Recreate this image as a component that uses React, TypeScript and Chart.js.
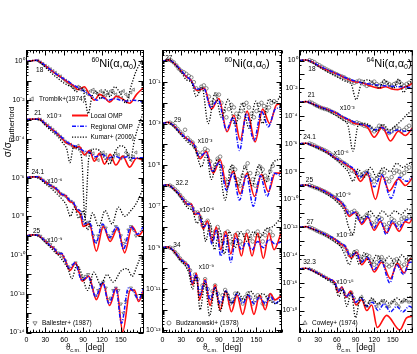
import React, { useEffect, useRef } from 'react';
import { Chart, registerables } from 'chart.js';
Chart.register(...registerables);

type P = [number, number];
const FONT = '"Liberation Sans", Arial, Helvetica, sans-serif';

const X_LABELS = [0, 30, 60, 90, 120, 150];

// ===== Panel A : 60Ni(α,α0) 18, 21, 24.1, 25 MeV  (values = σ/σR before scaling) =====
const A18_local: P[] = [[0,1],[8,1.1],[16,1.15],[25,0.8],[35,0.45],[45,0.25],[55,0.15],[65,0.09],[75,0.055],[82,0.035],[92,0.05],[100,0.02],[108,0.01],[116,0.02],[124,0.014],[132,0.008],[143,0.016],[154,0.011],[164,0.007],[175,0.02],[186,0.045]];
const A18_regional: P[] = [[0,1],[8,1.1],[16,1.15],[25,0.8],[35,0.45],[45,0.26],[55,0.15],[65,0.1],[75,0.06],[85,0.04],[95,0.025],[105,0.015],[112,0.01],[120,0.014],[130,0.01],[140,0.012],[150,0.01],[160,0.009],[170,0.01],[186,0.008]];
const A18_kumar: P[] = [[0,1],[8,1.1],[16,1.15],[25,0.7],[35,0.35],[45,0.18],[55,0.1],[65,0.06],[72,0.05],[79,0.027],[86,0.05],[92,0.02],[98,0.002],[104,0.015],[110,0.03],[118,0.012],[126,0.035],[133,0.015],[140,0.05],[150,0.02],[158,0.007],[166,0.05],[174,0.3],[186,1.5]];
const A18_exp: P[] = [[18,1.1],[22,0.9],[26,0.75],[30,0.6],[34,0.5],[38,0.4],[42,0.32],[46,0.26],[50,0.2],[54,0.17],[58,0.13],[62,0.1],[66,0.08],[70,0.06],[74,0.045],[78,0.04],[82,0.05],[86,0.035],[90,0.04],[94,0.028],[98,0.02],[102,0.03],[106,0.035],[110,0.025],[114,0.02],[118,0.03],[122,0.025],[126,0.018],[130,0.022],[134,0.03],[138,0.025],[142,0.02],[146,0.015],[150,0.025],[154,0.03],[158,0.02],[162,0.015],[166,0.025],[170,0.035]];

const A21_local: P[] = [[0,1],[10,1.05],[20,1.05],[30,0.6],[40,0.32],[48,0.2],[56,0.11],[64,0.06],[70,0.055],[77,0.035],[84,0.04],[92,0.015],[100,0.025],[108,0.007],[116,0.018],[124,0.005],[133,0.016],[142,0.0045],[153,0.013],[164,0.0035],[175,0.01],[186,0.008]];
const A21_regional: P[] = [[0,1],[10,1.05],[20,1.05],[30,0.6],[40,0.33],[48,0.2],[56,0.12],[64,0.07],[72,0.05],[80,0.04],[90,0.025],[100,0.02],[110,0.012],[120,0.016],[130,0.01],[140,0.013],[150,0.01],[160,0.012],[170,0.01],[186,0.011]];
const A21_kumar: P[] = [[0,1],[10,1.05],[20,1.0],[30,0.5],[40,0.25],[50,0.13],[58,0.06],[64,0.03],[69,0.006],[75,0.04],[82,0.03],[88,0.008],[93,0.000008],[99,0.01],[108,0.03],[116,0.025],[124,0.01],[132,0.005],[140,0.02],[150,0.045],[158,0.03],[165,0.008],[172,0.1],[186,2.5]];
const A21_exp: P[] = [[18,1.05],[22,1.0],[26,0.8],[30,0.6],[34,0.5],[38,0.38],[42,0.3],[46,0.22],[50,0.17],[54,0.13],[58,0.1],[62,0.07],[66,0.06],[70,0.05],[74,0.04],[78,0.035],[82,0.045],[86,0.03],[90,0.02],[94,0.015],[98,0.02],[102,0.025],[106,0.018],[110,0.01],[114,0.008],[118,0.015],[122,0.02],[126,0.015],[130,0.01],[134,0.008],[138,0.012],[142,0.018],[146,0.015],[150,0.01],[154,0.012],[158,0.02],[162,0.015],[166,0.008],[170,0.012],[174,0.02]];

const A241_local: P[] = [[0,1],[10,1.1],[18,1.1],[28,0.65],[38,0.4],[48,0.25],[56,0.13],[62,0.12],[68,0.06],[74,0.05],[80,0.02],[86,0.012],[90,0.003],[100,0.004],[111,0.00016],[122,0.003],[133,0.0005],[145,0.0025],[156,0.00013],[168,0.003],[178,0.001],[186,0.002]];
const A241_regional: P[] = [[0,1],[10,1.1],[18,1.1],[28,0.65],[38,0.4],[48,0.26],[56,0.14],[62,0.12],[68,0.07],[74,0.055],[80,0.025],[87,0.015],[91,0.004],[100,0.005],[110,0.0004],[121,0.004],[132,0.0008],[144,0.003],[154,0.0002],[166,0.003],[176,0.0012],[186,0.003]];
const A241_kumar: P[] = [[0,1],[10,1.1],[18,1.0],[28,0.55],[38,0.3],[48,0.15],[56,0.08],[63,0.04],[70,0.01],[76,0.03],[83,0.008],[90,0.02],[97,0.002],[105,0.015],[115,0.003],[125,0.02],[136,0.004],[146,0.03],[156,0.01],[166,0.02],[175,0.05],[186,0.3]];
const A241_exp: P[] = [[18,1.05],[22,0.95],[26,0.75],[30,0.6],[34,0.5],[38,0.4],[42,0.33],[46,0.28],[50,0.2],[54,0.15],[58,0.13],[62,0.11],[66,0.08],[70,0.06],[74,0.05],[78,0.03],[82,0.02],[86,0.012],[90,0.006],[94,0.004],[98,0.005],[102,0.003],[106,0.001],[110,0.0005],[114,0.001],[118,0.002],[122,0.003],[126,0.0025],[130,0.001],[134,0.0008],[138,0.0015],[142,0.003],[146,0.002],[150,0.001],[154,0.0004],[158,0.0006],[162,0.002],[166,0.003],[170,0.002],[174,0.001]];

const A25_local: P[] = [[0,1],[10,1.1],[18,1.05],[28,0.6],[38,0.3],[45,0.2],[50,0.11],[55,0.12],[62,0.05],[69,0.016],[78,0.04],[89,0.0045],[99,0.008],[111,0.0005],[122,0.0035],[132,0.00025],[143,0.002],[153,0.000011],[165,0.0016],[172,0.0015],[178,0.0004],[186,0.0015]];
const A25_regional: P[] = [[0,1],[10,1.1],[18,1.05],[28,0.6],[38,0.3],[45,0.2],[50,0.12],[56,0.12],[62,0.05],[68,0.02],[77,0.04],[88,0.005],[98,0.008],[110,0.0007],[121,0.004],[131,0.0003],[142,0.002],[151,0.00003],[162,0.002],[171,0.0012],[178,0.0005],[186,0.002]];
const A25_kumar: P[] = [[0,1],[10,1.1],[18,1.0],[28,0.5],[38,0.25],[46,0.13],[52,0.09],[60,0.04],[66,0.02],[72,0.006],[80,0.03],[88,0.01],[97,0.0015],[107,0.013],[118,0.003],[128,0.01],[138,0.004],[150,0.015],[160,0.02],[168,0.008],[176,0.03],[186,0.2]];
const A25_exp: P[] = [[18,1.05],[22,0.95],[26,0.7],[30,0.55],[34,0.45],[38,0.35],[42,0.25],[46,0.18],[50,0.13],[54,0.12],[58,0.08],[62,0.05],[66,0.025],[70,0.02],[74,0.03],[78,0.04],[82,0.02],[86,0.008],[90,0.006],[94,0.008],[98,0.01],[102,0.005],[106,0.002],[110,0.0008],[114,0.0015],[118,0.003],[122,0.004],[126,0.002],[130,0.0005],[134,0.0006],[138,0.0015],[142,0.002],[146,0.0015],[150,0.0003],[154,0.0001],[158,0.0004],[162,0.0012],[166,0.002],[170,0.0015],[174,0.0008]];

// ===== Panel B : 60Ni(α,α0) 27, 29, 32.2, 34 MeV =====
const B27_local: P[] = [[0,1],[10,1.2],[20,0.75],[30,0.35],[38,0.18],[45,0.13],[55,0.04],[67,0.05],[78,0.005],[90,0.016],[103,0.0004],[114,0.0025],[124,0.00016],[135,0.004],[148,0.00013],[160,0.005],[171,0.001],[182,0.008],[190,0.009]];
const B27_regional: P[] = [[0,1],[10,1.2],[20,0.75],[30,0.36],[38,0.19],[45,0.13],[54,0.045],[66,0.05],[77,0.006],[89,0.014],[102,0.0005],[113,0.002],[123,0.00005],[134,0.003],[146,0.00015],[158,0.004],[169,0.0007],[180,0.005],[190,0.006]];
const B27_kumar: P[] = [[0,1],[10,1.2],[20,0.7],[30,0.3],[38,0.13],[46,0.1],[54,0.02],[63,0.06],[73,0.001],[84,0.03],[94,0.002],[105,0.015],[116,0.0008],[127,0.01],[138,0.0006],[149,0.012],[160,0.001],[170,0.015],[180,0.01],[190,0.03]];
const B27_exp: P[] = [[10,1.2],[14,1.1],[18,0.9],[22,0.65],[26,0.45],[30,0.35],[34,0.3],[38,0.25],[42,0.2],[46,0.17],[50,0.1],[54,0.05],[58,0.04],[62,0.06],[66,0.07],[70,0.05],[74,0.02],[78,0.01],[82,0.012],[86,0.025],[90,0.025],[94,0.01],[98,0.004],[102,0.002],[106,0.005],[110,0.008],[114,0.006],[118,0.003],[122,0.002],[126,0.004],[130,0.008],[134,0.01],[138,0.006],[142,0.003],[146,0.002],[150,0.004],[154,0.008],[158,0.01],[162,0.007],[166,0.004],[170,0.006],[174,0.01],[178,0.012]];

const B29_local: P[] = [[0,1],[8,1.15],[18,0.8],[27,0.4],[36,0.22],[43,0.15],[50,0.1],[60,0.02],[70,0.045],[81,0.004],[92,0.018],[103,0.0008],[113,0.005],[124,0.0004],[135,0.004],[147,0.0003],[158,0.0035],[169,0.0005],[180,0.004],[190,0.004]];
const B29_regional: P[] = [[0,1],[8,1.15],[18,0.8],[27,0.4],[36,0.22],[43,0.15],[50,0.1],[59,0.025],[69,0.04],[80,0.005],[91,0.014],[102,0.0006],[112,0.004],[123,0.0002],[134,0.003],[145,0.0001],[156,0.003],[167,0.0003],[178,0.004],[190,0.003]];
const B29_kumar: P[] = [[0,1],[8,1.15],[18,0.7],[27,0.35],[36,0.17],[44,0.1],[52,0.06],[62,0.008],[70,0.03],[78,0.002],[88,0.02],[100,0.0002],[110,0.01],[121,0.001],[132,0.008],[143,0.001],[154,0.01],[165,0.0015],[176,0.012],[190,0.02]];
const B29_exp: P[] = [[12,1.1],[16,0.95],[20,0.75],[24,0.55],[28,0.4],[32,0.3],[36,0.5],[40,0.2],[44,0.15],[48,0.12],[52,0.07],[56,0.04],[60,0.03],[64,0.04],[68,0.06],[72,0.05],[76,0.015],[80,0.006],[84,0.01],[88,0.02],[92,0.025],[96,0.008],[100,0.002],[104,0.0015],[108,0.005],[112,0.008],[116,0.006],[120,0.002],[124,0.001],[128,0.003],[132,0.008],[136,0.012],[140,0.004],[144,0.002],[148,0.001],[152,0.004],[156,0.008],[160,0.006],[164,0.003],[168,0.002],[172,0.005],[176,0.009]];

const B322_local: P[] = [[0,1],[8,1.1],[18,0.7],[26,0.4],[34,0.2],[40,0.12],[46,0.13],[52,0.04],[58,0.05],[65,0.008],[72,0.02],[79,0.002],[86,0.01],[93,0.0008],[101,0.006],[109,0.0005],[117,0.005],[126,0.0004],[134,0.005],[143,0.0004],[152,0.005],[161,0.0003],[170,0.005],[178,0.0008],[190,0.006]];
const B322_regional: P[] = [[0,1],[8,1.1],[18,0.7],[26,0.4],[34,0.2],[40,0.13],[46,0.12],[52,0.045],[58,0.045],[65,0.01],[72,0.015],[79,0.0015],[86,0.007],[93,0.0004],[101,0.004],[109,0.0002],[117,0.003],[126,0.0008],[134,0.002],[143,0.0008],[152,0.002],[161,0.001],[170,0.0025],[180,0.0015],[190,0.002]];
const B322_kumar: P[] = [[0,1],[8,1.1],[18,0.65],[26,0.35],[34,0.15],[41,0.08],[48,0.06],[55,0.015],[62,0.03],[69,0.002],[76,0.015],[83,0.0008],[91,0.008],[99,0.0005],[107,0.006],[116,0.001],[125,0.006],[135,0.002],[145,0.006],[155,0.003],[165,0.008],[175,0.01],[190,0.03]];
const B322_exp: P[] = [[12,1.0],[16,0.85],[20,0.65],[24,0.5],[28,0.35],[32,0.25],[36,0.18],[40,0.14],[44,0.12],[48,0.08],[52,0.05],[56,0.05],[60,0.03],[64,0.012],[68,0.015],[72,0.02],[76,0.008],[80,0.003],[84,0.006],[88,0.01],[92,0.004],[96,0.002],[100,0.005],[104,0.006],[108,0.002],[112,0.0015],[116,0.004],[120,0.005],[124,0.002],[128,0.0015],[132,0.004],[136,0.006],[140,0.003],[144,0.002],[148,0.004],[152,0.006],[156,0.004],[160,0.002],[164,0.004],[168,0.007],[172,0.006],[176,0.004]];

const B34_local: P[] = [[0,1],[8,1.1],[18,0.7],[27,0.32],[36,0.18],[42,0.12],[48,0.016],[54,0.06],[59,0.003],[68,0.03],[76,0.0016],[84,0.016],[92,0.001],[101,0.008],[110,0.0008],[119,0.005],[128,0.0006],[137,0.005],[146,0.0006],[155,0.005],[164,0.001],[172,0.006],[180,0.003],[190,0.005]];
const B34_regional: P[] = [[0,1],[8,1.1],[18,0.7],[27,0.32],[36,0.18],[42,0.12],[48,0.02],[54,0.05],[59,0.005],[68,0.025],[76,0.003],[84,0.012],[92,0.002],[101,0.008],[110,0.002],[119,0.006],[128,0.002],[137,0.005],[146,0.002],[155,0.004],[164,0.002],[172,0.005],[180,0.002],[190,0.004]];
const B34_kumar: P[] = [[0,1],[8,1.1],[18,0.65],[27,0.28],[36,0.14],[42,0.06],[48,0.01],[54,0.04],[60,0.001],[68,0.02],[75,0.0005],[84,0.012],[92,0.0008],[101,0.008],[111,0.002],[120,0.007],[130,0.003],[140,0.008],[150,0.004],[160,0.006],[170,0.003],[180,0.002],[190,0.003]];
const B34_exp: P[] = [[12,1.0],[16,0.9],[20,0.6],[24,0.45],[28,0.3],[32,0.22],[36,0.18],[40,0.13],[44,0.08],[48,0.03],[52,0.05],[56,0.03],[60,0.008],[64,0.015],[68,0.03],[72,0.01],[76,0.004],[80,0.008],[84,0.015],[88,0.006],[92,0.002],[96,0.005],[100,0.009],[104,0.005],[108,0.002],[112,0.003],[116,0.006],[120,0.006],[124,0.003],[128,0.002],[132,0.004],[136,0.006],[140,0.004],[144,0.002],[148,0.003],[152,0.005],[156,0.004],[160,0.002],[164,0.002],[168,0.004],[172,0.005],[176,0.003]];

// ===== Panel C : 64Ni(α,α0) 18, 21, 24.1, 25, 27, 32.3 MeV =====
const C18_local: P[] = [[0,1],[10,1.1],[20,0.8],[31,0.4],[45,0.2],[62,0.1],[75,0.05],[88,0.03],[100,0.025],[109,0.018],[118,0.013],[128,0.01],[138,0.013],[148,0.009],[158,0.008],[168,0.012],[175,0.015],[182,0.025]];
const C18_regional: P[] = [[0,1],[10,1.1],[20,0.8],[31,0.42],[45,0.22],[62,0.1],[75,0.055],[88,0.035],[100,0.025],[112,0.02],[124,0.017],[136,0.015],[148,0.014],[160,0.013],[172,0.012],[182,0.011]];
const C18_kumar: P[] = [[0,1],[10,1.1],[20,0.7],[31,0.35],[45,0.15],[62,0.06],[75,0.03],[83,0.02],[91,0.0015],[99,0.02],[110,0.04],[120,0.02],[128,0.01],[136,0.04],[145,0.015],[151,0.01],[159,0.045],[167,0.005],[175,0.02],[182,0.04]];
const C18_exp: P[] = [[16,1.05],[20,0.9],[24,0.75],[28,0.55],[32,0.45],[36,0.35],[40,0.28],[44,0.22],[48,0.18],[52,0.15],[56,0.12],[60,0.1],[64,0.08],[68,0.07],[72,0.06],[76,0.045],[80,0.04],[84,0.03],[88,0.025],[92,0.03],[96,0.035],[100,0.03],[104,0.02],[108,0.015],[112,0.018],[116,0.025],[120,0.03],[124,0.02],[128,0.015],[132,0.02],[136,0.03],[140,0.025],[144,0.02],[148,0.015],[152,0.02],[156,0.025],[160,0.03],[164,0.02],[168,0.015],[172,0.02],[176,0.025]];

const C21_local: P[] = [[0,1],[10,1.1],[20,0.8],[30,0.5],[45,0.3],[57,0.18],[70,0.08],[80,0.05],[88,0.03],[98,0.025],[109,0.016],[120,0.003],[133,0.016],[146,0.0016],[159,0.008],[170,0.004],[182,0.015]];
const C21_regional: P[] = [[0,1],[10,1.1],[20,0.8],[30,0.5],[45,0.3],[57,0.19],[70,0.09],[80,0.055],[90,0.035],[100,0.025],[110,0.02],[120,0.01],[132,0.015],[145,0.006],[157,0.01],[170,0.008],[182,0.01]];
const C21_kumar: P[] = [[0,1],[10,1.1],[20,0.75],[30,0.45],[45,0.25],[57,0.12],[70,0.05],[78,0.02],[86,0.0003],[94,0.02],[104,0.03],[114,0.02],[124,0.008],[134,0.025],[144,0.01],[154,0.02],[164,0.05],[172,0.12],[182,0.3]];
const C21_exp: P[] = [[16,1.05],[20,0.9],[24,0.7],[28,0.55],[32,0.45],[36,0.38],[40,0.33],[44,0.3],[48,0.25],[52,0.2],[56,0.17],[60,0.14],[64,0.1],[68,0.08],[72,0.065],[76,0.05],[80,0.045],[84,0.035],[88,0.03],[92,0.035],[96,0.03],[100,0.025],[104,0.02],[108,0.018],[112,0.015],[116,0.01],[120,0.008],[124,0.012],[128,0.02],[132,0.018],[136,0.012],[140,0.008],[144,0.006],[148,0.008],[152,0.012],[156,0.015],[160,0.012],[164,0.008],[168,0.01],[172,0.015],[176,0.02]];

const C241_local: P[] = [[0,1],[10,1.1],[20,0.8],[31,0.55],[45,0.25],[57,0.1],[68,0.05],[78,0.025],[88,0.012],[98,0.002],[109,0.008],[122,0.0001],[133,0.005],[144,0.0004],[159,0.003],[170,0.001],[182,0.004]];
const C241_regional: P[] = [[0,1],[10,1.1],[20,0.8],[31,0.55],[45,0.26],[57,0.1],[68,0.055],[78,0.03],[88,0.015],[97,0.004],[108,0.01],[120,0.0008],[132,0.006],[147,0.00012],[160,0.004],[172,0.002],[182,0.005]];
const C241_kumar: P[] = [[0,1],[10,1.1],[20,0.75],[31,0.45],[45,0.2],[57,0.08],[68,0.03],[78,0.01],[86,0.002],[94,0.015],[104,0.004],[114,0.02],[124,0.004],[134,0.02],[146,0.01],[156,0.04],[166,0.02],[176,0.04],[182,0.03]];
const C241_exp: P[] = [[16,1.05],[20,0.9],[24,0.75],[28,0.6],[32,0.5],[36,0.42],[40,0.35],[44,0.28],[48,0.22],[52,0.16],[56,0.12],[60,0.09],[64,0.07],[68,0.05],[72,0.04],[76,0.03],[80,0.02],[84,0.012],[88,0.01],[92,0.008],[96,0.004],[100,0.005],[104,0.008],[108,0.01],[112,0.006],[116,0.003],[120,0.002],[124,0.003],[128,0.006],[132,0.01],[136,0.008],[140,0.003],[144,0.002],[148,0.004],[152,0.008],[156,0.012],[160,0.01],[164,0.006],[168,0.008],[172,0.015],[176,0.02]];

const C25_local: P[] = [[0,1],[10,1.1],[20,0.85],[31,0.6],[45,0.3],[57,0.13],[65,0.07],[72,0.03],[80,0.006],[90,0.012],[100,0.0016],[110,0.005],[120,0.0006],[130,0.0025],[140,0.0004],[150,0.002],[160,0.0005],[170,0.0025],[176,0.002],[182,0.005]];
const C25_regional: P[] = [[0,1],[10,1.1],[20,0.85],[31,0.6],[45,0.3],[57,0.14],[65,0.08],[72,0.035],[80,0.008],[89,0.012],[99,0.002],[109,0.006],[119,0.0008],[129,0.004],[139,0.0003],[149,0.003],[159,0.0008],[169,0.003],[182,0.004]];
const C25_kumar: P[] = [[0,1],[10,1.1],[20,0.8],[31,0.5],[45,0.22],[57,0.09],[65,0.04],[72,0.015],[79,0.001],[86,0.0003],[93,0.01],[103,0.004],[113,0.015],[123,0.005],[133,0.015],[143,0.006],[153,0.015],[163,0.008],[173,0.02],[182,0.015]];
const C25_exp: P[] = [[16,1.05],[20,0.9],[24,0.75],[28,0.65],[32,0.55],[36,0.45],[40,0.38],[44,0.3],[48,0.24],[52,0.18],[56,0.14],[60,0.1],[64,0.07],[68,0.05],[72,0.03],[76,0.015],[80,0.01],[84,0.012],[88,0.015],[92,0.01],[96,0.004],[100,0.003],[104,0.005],[108,0.008],[112,0.006],[116,0.002],[120,0.0015],[124,0.003],[128,0.005],[132,0.004],[136,0.0015],[140,0.001],[144,0.002],[148,0.004],[152,0.003],[156,0.0015],[160,0.002],[164,0.004],[168,0.005],[172,0.004],[176,0.006]];

const C27_local: P[] = [[0,1],[10,1.1],[20,0.8],[31,0.5],[45,0.25],[57,0.13],[66,0.06],[73,0.04],[83,0.006],[92,0.016],[100,0.002],[110,0.006],[120,0.0006],[132,0.003],[146,0.0002],[157,0.0025],[168,0.0005],[178,0.005],[182,0.005]];
const C27_regional: P[] = [[0,1],[10,1.1],[20,0.8],[31,0.5],[45,0.26],[57,0.14],[66,0.07],[73,0.045],[82,0.008],[91,0.015],[99,0.003],[109,0.007],[119,0.0008],[131,0.004],[145,0.0001],[156,0.002],[167,0.0004],[177,0.003],[182,0.003]];
const C27_kumar: P[] = [[0,1],[10,1.1],[20,0.75],[31,0.45],[45,0.2],[57,0.09],[66,0.04],[73,0.01],[80,0.002],[88,0.02],[96,0.002],[104,0.015],[114,0.002],[124,0.01],[134,0.003],[144,0.008],[154,0.002],[164,0.01],[174,0.004],[182,0.01]];
const C27_exp: P[] = [[16,1.0],[20,0.85],[24,0.7],[28,0.55],[32,0.45],[36,0.38],[40,0.32],[44,0.26],[48,0.2],[52,0.16],[56,0.12],[60,0.09],[64,0.07],[68,0.05],[72,0.04],[76,0.02],[80,0.01],[84,0.008],[88,0.015],[92,0.018],[96,0.008],[100,0.004],[104,0.006],[108,0.01],[112,0.008],[116,0.004],[120,0.002],[124,0.003],[128,0.006],[132,0.007],[136,0.004],[140,0.002],[144,0.0015],[148,0.002],[152,0.004],[156,0.005],[160,0.003],[164,0.0015],[168,0.002],[172,0.004],[176,0.006]];

const C323_local: P[] = [[0,1],[10,1.1],[20,0.8],[31,0.45],[45,0.2],[57,0.1],[62,0.02],[68,0.05],[75,0.009],[82,0.025],[91,0.0025],[100,0.006],[108,0.001],[116,0.0025],[125,0.00006],[140,0.00045],[161,0.00004],[172,0.0003],[182,0.0004]];
const C323_regional: P[] = [[0,1],[10,1.1],[20,0.8],[31,0.45],[45,0.2],[57,0.1],[62,0.025],[68,0.045],[75,0.01],[82,0.02],[90,0.004],[99,0.008],[108,0.002],[117,0.004],[126,0.001],[136,0.003],[146,0.0008],[156,0.002],[166,0.0008],[176,0.002],[182,0.0015]];
const C323_kumar: P[] = [[0,1],[10,1.1],[20,0.75],[31,0.4],[45,0.16],[57,0.07],[63,0.01],[69,0.035],[76,0.002],[83,0.02],[90,0.0003],[98,0.01],[107,0.002],[116,0.008],[126,0.003],[136,0.006],[146,0.003],[156,0.008],[166,0.004],[176,0.01],[182,0.006]];
const C323_exp: P[] = [[16,1.0],[20,0.85],[24,0.7],[28,0.55],[32,0.45],[36,0.35],[40,0.28],[44,0.22],[48,0.17],[52,0.12],[56,0.09],[60,0.04],[64,0.03],[68,0.04],[72,0.02],[76,0.01],[80,0.015],[84,0.02],[88,0.008],[92,0.003],[96,0.006],[100,0.01],[104,0.005],[108,0.002],[112,0.004],[116,0.006],[120,0.004],[124,0.002],[128,0.003],[132,0.005],[136,0.004],[140,0.002],[144,0.002],[148,0.004],[152,0.005],[156,0.003],[160,0.002],[164,0.004],[168,0.006],[172,0.005],[176,0.004]];

// energies, scale exponents, label anchors [deg, decades relative to scaled start]
const A_energies = ['18', '21', '24.1', '25'];
const A_exponents = [0, -3, -6, -9];
const B_energies = ['27', '29', '32.2', '34'];
const B_exponents = [0, -3, -6, -9];
const C_energies = ['18', '21', '24.1', '25', '27', '32.3'];
const C_exponents = [0, -3, -6, -9, -12, -15];

type Marker = 'circle' | 'left' | 'down' | 'up';
interface Energy { label: string; exp: number; local: P[]; regional: P[]; kumar: P[]; data: P[]; marker: Marker; at: P; fat: P | null; }
interface Source { name: string; marker: Marker; x: number; y: number; }
interface Panel {
  key: string; mass: string; left: number; right: number; top: number; bottom: number;
  xMax: number; yMin: number; yMax: number; yTicks: number[]; titleX: number; titleY: number;
  energies: Energy[]; sources: Source[]; legend: boolean; yTitle: boolean;
}

const mk = (label: string, exp: number, local: P[], regional: P[], kumar: P[], data: P[], marker: Marker, at: P, fat: P | null): Energy =>
  ({ label, exp, local, regional, kumar, data, marker, at, fat });

const PANELS: Panel[] = [
  {
    key: 'A', mass: '60', left: 26.5, right: 143.5, top: 50.5, bottom: 332.5, xMax: 186, yMin: 1e-14, yMax: 3.7,
    yTicks: [0, -2, -4, -6, -8, -10, -12, -14], titleX: 114, titleY: 67, legend: true, yTitle: true,
    energies: [
      mk(A_energies[0], A_exponents[0], A18_local, A18_regional, A18_kumar, A18_exp, 'left', [21, -0.47], null),
      mk(A_energies[1], A_exponents[1], A21_local, A21_regional, A21_kumar, A21_exp, 'left', [18, 0.34], [44, 0.19]),
      mk(A_energies[2], A_exponents[2], A241_local, A241_regional, A241_kumar, A241_exp, 'down', [18, 0.27], [45, -0.2]),
      mk(A_energies[3], A_exponents[3], A25_local, A25_regional, A25_kumar, A25_exp, 'down', [16, 0.25], [45, -0.22]),
    ],
    sources: [{ name: 'Trombik+(1974)', marker: 'left', x: 32, y: 99 }, { name: 'Ballester+ (1987)', marker: 'down', x: 35, y: 323 }],
  },
  {
    key: 'B', mass: '60', left: 162.5, right: 281.5, top: 50.5, bottom: 332.5, xMax: 190, yMin: Math.pow(10, -13.1), yMax: 3.4,
    yTicks: [-1, -3, -5, -7, -9, -11, -13], titleX: 247, titleY: 67, legend: false, yTitle: false,
    energies: [
      mk(B_energies[0], B_exponents[0], B27_local, B27_regional, B27_kumar, B27_exp, 'circle', [10, 0.18], null),
      mk(B_energies[1], B_exponents[1], B29_local, B29_regional, B29_kumar, B29_exp, 'circle', [24, 0.14], [68, -0.83]),
      mk(B_energies[2], B_exponents[2], B322_local, B322_regional, B322_kumar, B322_exp, 'circle', [31, 0.13], [71, -1.18]),
      mk(B_energies[3], B_exponents[3], B34_local, B34_regional, B34_kumar, B34_exp, 'circle', [23, 0.1], [70, -0.95]),
    ],
    sources: [{ name: 'Budzanowski+ (1978)', marker: 'circle', x: 169, y: 323 }],
  },
  {
    key: 'C', mass: '64', left: 299.5, right: 416.5, top: 50.5, bottom: 332.5, xMax: 181, yMin: Math.pow(10, -19.58), yMax: Math.pow(10, 0.72),
    yTicks: [0, -2, -4, -6, -8, -10, -12, -14, -16, -18], titleX: 389, titleY: 67, legend: false, yTitle: false,
    energies: [
      mk(C_energies[0], C_exponents[0], C18_local, C18_regional, C18_kumar, C18_exp, 'circle', [20, -0.65], null),
      mk(C_energies[1], C_exponents[1], C21_local, C21_regional, C21_kumar, C21_exp, 'circle', [19, 0.47], [77, -0.4]),
      mk(C_energies[2], C_exponents[2], C241_local, C241_regional, C241_kumar, C241_exp, 'circle', [16, 0.51], [67, -0.65]),
      mk(C_energies[3], C_exponents[3], C25_local, C25_regional, C25_kumar, C25_exp, 'circle', [16, 0.4], [70, -0.68]),
      mk(C_energies[4], C_exponents[4], C27_local, C27_regional, C27_kumar, C27_exp, 'circle', [17, 0.37], [73, -0.57]),
      mk(C_energies[5], C_exponents[5], C323_local, C323_regional, C323_kumar, C323_exp, 'up', [16, 0.48], [73, -0.97]),
    ],
    sources: [{ name: 'Cowley+ (1974)', marker: 'up', x: 305, y: 323 }],
  },
];

const SUP: Record<string, string> = { '0': '⁰', '1': '¹', '2': '²', '3': '³', '4': '⁴', '5': '⁵', '6': '⁶', '7': '⁷', '8': '⁸', '9': '⁹', '-': '⁻' };
const sup = (n: number) => String(n).split('').map((c) => SUP[c] ?? c).join('');

const RED = '#ff1010';
const BLUE = '#1010ff';
const GRAY = '#6a6a6a';

function scaled(points: P[], exp: number) {
  const f = Math.pow(10, exp);
  return points.map(([x, v]) => ({ x, y: v * f }));
}

function markerStyle(m: Marker): { style: string; rot: number } {
  if (m === 'left') return { style: 'triangle', rot: -90 };
  if (m === 'down') return { style: 'triangle', rot: 180 };
  if (m === 'up') return { style: 'triangle', rot: 0 };
  return { style: 'circle', rot: 0 };
}

function drawMarker(ctx: CanvasRenderingContext2D, m: Marker, x: number, y: number, r: number) {
  ctx.beginPath();
  if (m === 'circle') ctx.arc(x, y, r, 0, Math.PI * 2);
  else {
    const rot = m === 'left' ? -Math.PI / 2 : m === 'down' ? Math.PI : 0;
    for (let i = 0; i < 3; i++) {
      const a = rot + (i * 2 * Math.PI) / 3;
      const px = x + Math.sin(a) * r * 1.2;
      const py = y - Math.cos(a) * r * 1.2;
      if (i === 0) ctx.moveTo(px, py); else ctx.lineTo(px, py);
    }
    ctx.closePath();
  }
  ctx.stroke();
}

type Seg = { t: string; s: number; dy?: number };
function rich(ctx: CanvasRenderingContext2D, segs: Seg[], x: number, y: number, align: 'left' | 'center' | 'right') {
  ctx.textBaseline = 'alphabetic';
  ctx.textAlign = 'left';
  let w = 0;
  for (const g of segs) { ctx.font = `${g.s}px ${FONT}`; w += ctx.measureText(g.t).width; }
  let cx = align === 'left' ? x : align === 'center' ? x - w / 2 : x - w;
  for (const g of segs) {
    ctx.font = `${g.s}px ${FONT}`;
    ctx.fillText(g.t, cx, y + (g.dy || 0));
    cx += ctx.measureText(g.t).width;
  }
}

function decoPlugin(cfg: Panel) {
  return {
    id: 'deco' + cfg.key,
    afterDraw(chart: any) {
      const ctx: CanvasRenderingContext2D = chart.ctx;
      const a = chart.chartArea;
      const xs = chart.scales.x;
      const ys = chart.scales.y;
      ctx.save();
      ctx.strokeStyle = '#000';
      ctx.fillStyle = '#000';
      ctx.lineWidth = 1;
      ctx.setLineDash([]);
      ctx.strokeRect(a.left, a.top, a.right - a.left, a.bottom - a.top);
      // x ticks (inward, bottom and top)
      ctx.beginPath();
      for (let d = 0; d <= cfg.xMax; d += 5) {
        const px = Math.round(xs.getPixelForValue(d)) + 0.5;
        const len = d % 30 === 0 ? 5 : d % 10 === 0 ? 3 : 1.8;
        ctx.moveTo(px, a.bottom); ctx.lineTo(px, a.bottom - len);
        ctx.moveTo(px, a.top); ctx.lineTo(px, a.top + len);
      }
      // y ticks (inward, left and right)
      const k0 = Math.floor(Math.log10(cfg.yMin));
      const k1 = Math.ceil(Math.log10(cfg.yMax));
      for (let k = k0; k <= k1; k++) {
        for (let m = 1; m <= 9; m++) {
          const v = m * Math.pow(10, k);
          if (v < cfg.yMin || v > cfg.yMax) continue;
          const py = Math.round(ys.getPixelForValue(v)) + 0.5;
          const len = m === 1 ? 5 : 2;
          if (m !== 1 && m !== 5 && cfg.key === 'C') continue;
          ctx.moveTo(a.left, py); ctx.lineTo(a.left + len, py);
          ctx.moveTo(a.right, py); ctx.lineTo(a.right - len, py);
        }
      }
      ctx.stroke();

      // title
      rich(ctx, [{ t: cfg.mass, s: 7, dy: -5 }, { t: 'Ni(α,α', s: 11 }, { t: '0', s: 7, dy: 2 }, { t: ')', s: 11 }], cfg.titleX, cfg.titleY, 'center');

      // energy and factor labels
      ctx.textAlign = 'center';
      ctx.textBaseline = 'middle';
      for (const e of cfg.energies) {
        ctx.font = `6.5px ${FONT}`;
        ctx.textAlign = 'center';
        ctx.textBaseline = 'middle';
        ctx.fillText(e.label, xs.getPixelForValue(e.at[0]), ys.getPixelForValue(Math.pow(10, e.exp + e.at[1])));
        if (e.fat) {
          ctx.fillText('x10' + sup(e.exp), xs.getPixelForValue(e.fat[0]), ys.getPixelForValue(Math.pow(10, e.exp + e.fat[1])));
        }
      }

      // data-source legends
      for (const s of cfg.sources) {
        ctx.strokeStyle = GRAY;
        ctx.lineWidth = 0.8;
        drawMarker(ctx, s.marker, s.x, s.y, 2);
        ctx.fillStyle = '#000';
        rich(ctx, [{ t: s.name, s: 6.5 }], s.x + 7, s.y + 2.3, 'left');
      }

      // model legend
      if (cfg.legend) {
        const rows: { name: string; color: string; dash: number[]; w: number }[] = [
          { name: 'Local OMP', color: RED, dash: [], w: 2 },
          { name: 'Regional OMP', color: BLUE, dash: [4, 1.5, 1, 1.5], w: 1.5 },
          { name: 'Kumar+ (2006)', color: '#000', dash: [1.2, 1.5], w: 1.3 },
        ];
        rows.forEach((r, i) => {
          const y = 115.5 + i * 10.8;
          ctx.strokeStyle = r.color;
          ctx.lineWidth = r.w;
          ctx.setLineDash(r.dash);
          ctx.beginPath(); ctx.moveTo(72, y); ctx.lineTo(88, y); ctx.stroke();
          ctx.setLineDash([]);
          ctx.fillStyle = '#000';
          rich(ctx, [{ t: r.name, s: 6.5 }], 90.5, y + 2.3, 'left');
        });
      }

      // axis titles
      ctx.fillStyle = '#000';
      rich(ctx, [{ t: 'ϑ', s: 8.5 }, { t: 'c.m.', s: 5.5, dy: 2 }, { t: '  [deg]', s: 8.5 }], (a.left + a.right) / 2, 350, 'center');
      if (cfg.yTitle) {
        ctx.save();
        ctx.translate(11, 132);
        ctx.rotate(-Math.PI / 2);
        rich(ctx, [{ t: 'σ/σ', s: 10 }, { t: 'Rutherford', s: 7.5, dy: 2.5 }], 0, 0, 'center');
        ctx.restore();
      }
      ctx.restore();
    },
  };
}

function makeChart(canvas: HTMLCanvasElement, cfg: Panel) {
  const datasets: any[] = [];
  for (const e of cfg.energies) {
    const base = { pointRadius: 0, fill: false, cubicInterpolationMode: 'monotone' as const, borderJoinStyle: 'round' as const };
    datasets.push({ ...base, label: `${e.label} Kumar`, data: scaled(e.kumar, e.exp), borderColor: '#000', borderWidth: 1.3, borderDash: [1.2, 1.6], order: 0 });
    datasets.push({ ...base, label: `${e.label} Regional`, data: scaled(e.regional, e.exp), borderColor: BLUE, borderWidth: 1.5, borderDash: [4, 1.5, 1, 1.5], order: 1 });
    datasets.push({ ...base, label: `${e.label} Local`, data: scaled(e.local, e.exp), borderColor: RED, borderWidth: 1.6, order: 2 });
    const ms = markerStyle(e.marker);
    datasets.push({
      label: `${e.label} data`, data: scaled(e.data, e.exp), showLine: false, pointRadius: 1.8, pointStyle: ms.style, rotation: ms.rot,
      pointBorderColor: GRAY, pointBackgroundColor: 'rgba(0,0,0,0)', pointBorderWidth: 0.8, order: 3,
    });
  }
  const tickFont = { family: FONT, size: 7 };
  return new Chart(canvas, {
    type: 'line',
    data: { datasets },
    options: {
      animation: false,
      responsive: false,
      devicePixelRatio: 1,
      events: [],
      layout: { padding: { left: 0, top: cfg.top, right: 417 - cfg.right, bottom: 0 } },
      plugins: { legend: { display: false }, tooltip: { enabled: false }, title: { display: false } },
      scales: {
        x: {
          type: 'linear', min: 0, max: cfg.xMax,
          grid: { display: false, drawTicks: false }, border: { display: false },
          afterBuildTicks: (s: any) => { s.ticks = X_LABELS.map((v) => ({ value: v })); },
          afterFit: (s: any) => { s.height = 354 - cfg.bottom; },
          ticks: { font: tickFont, color: '#000', padding: 3, maxRotation: 0, autoSkip: false },
        },
        y: {
          type: 'logarithmic', min: cfg.yMin, max: cfg.yMax,
          grid: { display: false, drawTicks: false }, border: { display: false },
          afterBuildTicks: (s: any) => { s.ticks = cfg.yTicks.map((k) => ({ value: Math.pow(10, k) })); },
          afterFit: (s: any) => { s.width = cfg.left; },
          ticks: {
            font: tickFont, color: '#000', padding: 2, autoSkip: false,
            callback: (v: any) => '10' + sup(Math.round(Math.log10(Number(v)))),
          },
        },
      },
    } as any,
    plugins: [decoPlugin(cfg)],
  });
}

export default function App() {
  const r0 = useRef<HTMLCanvasElement>(null);
  const r1 = useRef<HTMLCanvasElement>(null);
  const r2 = useRef<HTMLCanvasElement>(null);
  useEffect(() => {
    const refs = [r0, r1, r2];
    const charts = PANELS.map((p, i) => makeChart(refs[i].current as HTMLCanvasElement, p));
    return () => charts.forEach((c) => c.destroy());
  }, []);
  const refs = [r0, r1, r2];
  return (
    <div style={{ position: 'absolute', left: 0, top: 0, width: 417, height: 354, background: '#fff', overflow: 'hidden' }}>
      {PANELS.map((p, i) => (
        <canvas key={p.key} ref={refs[i]} width={417} height={354}
          style={{ position: 'absolute', left: 0, top: 0, width: 417, height: 354 }} />
      ))}
    </div>
  );
}
